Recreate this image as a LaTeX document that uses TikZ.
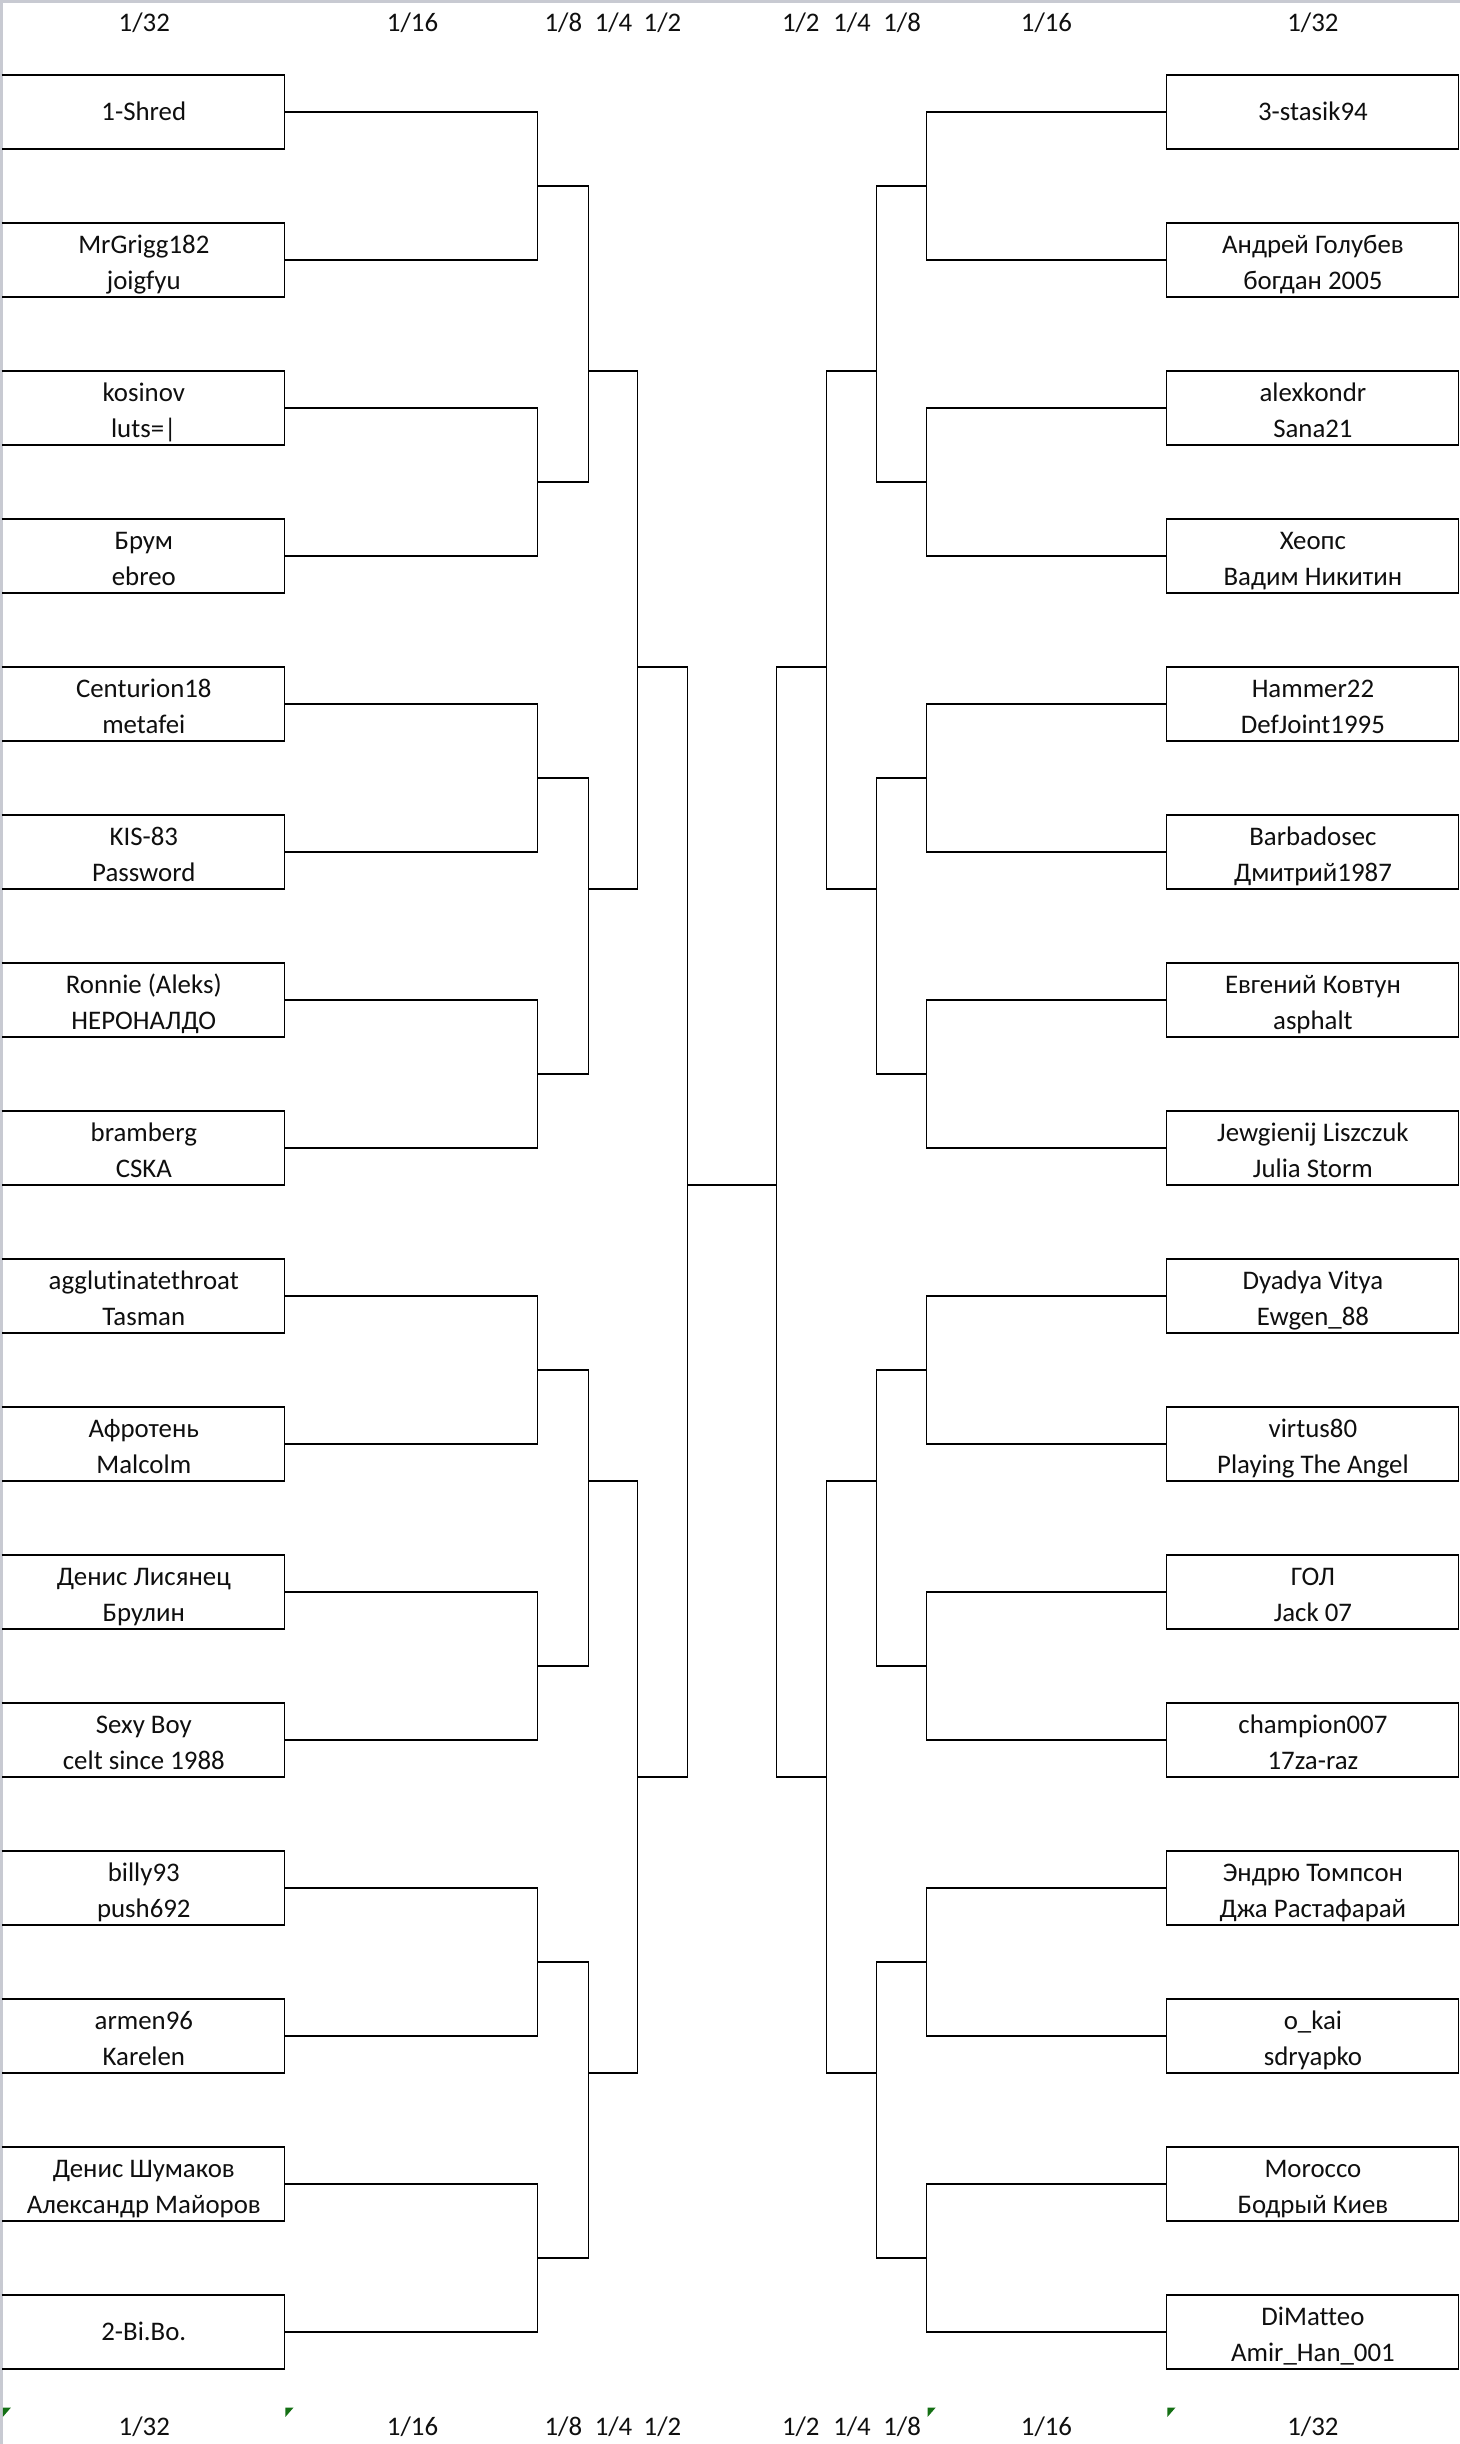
\documentclass[tikz,border=0pt]{standalone}
\usepackage{fontspec}
\setmainfont{Carlito}[Ligatures=NoCommon]
\definecolor{gridgray}{RGB}{200,202,210}
\definecolor{txtc}{RGB}{15,15,15}
\definecolor{errgreen}{RGB}{20,112,20}
\tikzset{
  ln/.style={line width=1.4pt, black, line join=miter},
  lbx/.style={rectangle, draw=none, inner sep=0pt, outer sep=0pt, minimum width=90.8mm, minimum height=23.75mm},
  rbx/.style={rectangle, draw=black, line width=1.4pt, inner sep=0pt, outer sep=0pt, minimum width=93.7mm, minimum height=23.75mm},
  txt/.style={inner sep=0pt, outer sep=0pt, text=txtc, font=\fontsize{24.5}{30}\selectfont, anchor=base},
  hdr/.style={inner sep=0pt, outer sep=0pt, text=txtc, font=\fontsize{24.5}{30}\selectfont, anchor=base}
}
\newcommand{\BoxLtwo}[4]{%
  \node[lbx] (#1) at (91.8,{71.75+95*#2}) {};
  \draw[ln] (#1.north west) -- (#1.north east) -- (#1.south east) -- (#1.south west);
  \node[txt] (#1a) at (92.3,{71.75+95*#2-4.25}) {#3};
  \node[txt] (#1b) at (92.3,{71.75+95*#2+19.05}) {#4};
}
\newcommand{\BoxLone}[3]{%
  \node[lbx] (#1) at (91.8,{71.75+95*#2}) {};
  \draw[ln] (#1.north west) -- (#1.north east) -- (#1.south east) -- (#1.south west);
  \node[txt] (#1a) at (92.3,{71.75+95*#2+5.55}) {#3};
}
\newcommand{\BoxRtwo}[4]{%
  \node[rbx] (#1) at (842.5,{71.75+95*#2}) {};
  \node[txt] (#1a) at (842.7,{71.75+95*#2-4.25}) {#3};
  \node[txt] (#1b) at (842.7,{71.75+95*#2+19.05}) {#4};
}
\newcommand{\BoxRone}[3]{%
  \node[rbx] (#1) at (842.5,{71.75+95*#2}) {};
  \node[txt] (#1a) at (842.7,{71.75+95*#2+5.55}) {#3};
}
\begin{document}
\begin{tikzpicture}[x=0.5mm,y=-0.5mm]
\useasboundingbox (0,0) rectangle (937.1,1568.7);
\fill[white] (0,0) rectangle (937.1,1568.7);
% sheet grid edges
\draw[gridgray, line width=2.4pt] (0,0.85) -- (937.1,0.85);
\draw[gridgray, line width=2.4pt] (0.85,0) -- (0.85,1568.7);

% headers top and bottom
\foreach \hx/\hlab [count=\n] in {92.6/32, 264.8/16, 361.6/8, 393.8/4, 425.2/2, 514/2, 546.9/4, 579/8, 671.7/16, 842.7/32}{
  \node[hdr] (ht\n) at (\hx,20.3) {1/\hlab};
  \node[hdr] (hb\n) at (\hx,1563.4) {1/\hlab};
}

% green error marks
\foreach \gx in {1.8,183.2,595.4,749.3}{
  \fill[errgreen] (\gx,1545.3) -- ++(5.2,0) -- ++(-5.2,6) -- cycle;
}

% left boxes
\BoxLone{L0}{0}{1-Shred}
\BoxLtwo{L1}{1}{MrGrigg182}{joigfyu}
\BoxLtwo{L2}{2}{kosinov}{luts=|}
\BoxLtwo{L3}{3}{Брум}{ebreo}
\BoxLtwo{L4}{4}{Centurion18}{metafei}
\BoxLtwo{L5}{5}{KIS-83}{Password}
\BoxLtwo{L6}{6}{Ronnie (Aleks)}{НЕРОНАЛДО}
\BoxLtwo{L7}{7}{bramberg}{CSKA}
\BoxLtwo{L8}{8}{agglutinatethroat}{Tasman}
\BoxLtwo{L9}{9}{Афротень}{Malcolm}
\BoxLtwo{L10}{10}{Денис Лисянец}{Брулин}
\BoxLtwo{L11}{11}{Sexy Boy}{celt since 1988}
\BoxLtwo{L12}{12}{billy93}{push692}
\BoxLtwo{L13}{13}{armen96}{Karelen}
\BoxLtwo{L14}{14}{Денис Шумаков}{Александр Майоров}
\BoxLone{L15}{15}{2-Bi.Bo.}

% right boxes
\BoxRone{R0}{0}{3-stasik94}
\BoxRtwo{R1}{1}{Андрей Голубев}{богдан 2005}
\BoxRtwo{R2}{2}{alexkondr}{Sana21}
\BoxRtwo{R3}{3}{Хеопс}{Вадим Никитин}
\BoxRtwo{R4}{4}{Hammer22}{DefJoint1995}
\BoxRtwo{R5}{5}{Barbadosec}{Дмитрий1987}
\BoxRtwo{R6}{6}{Евгений Ковтун}{asphalt}
\BoxRtwo{R7}{7}{Jewgienij Liszczuk}{Julia Storm}
\BoxRtwo{R8}{8}{Dyadya Vitya}{Ewgen\_88}
\BoxRtwo{R9}{9}{virtus80}{Playing The Angel}
\BoxRtwo{R10}{10}{ГОЛ}{Jack 07}
\BoxRtwo{R11}{11}{champion007}{17za-raz}
\BoxRtwo{R12}{12}{Эндрю Томпсон}{Джа Растафарай}
\BoxRtwo{R13}{13}{o\_kai}{sdryapko}
\BoxRtwo{R14}{14}{Morocco}{Бодрый Киев}
\BoxRtwo{R15}{15}{DiMatteo}{Amir\_Han\_001}

% junction coordinates
\foreach \k in {0,...,7}{
  \coordinate (LA\k) at (345.1,{119.25+190*\k});
  \coordinate (RA\k) at (594.8,{119.25+190*\k});
}
\coordinate (LB1) at (377.6,238);
\coordinate (LB2) at (377.6,570.5);
\coordinate (LB3) at (377.6,950.5);
\coordinate (LB4) at (377.6,1330.5);
\coordinate (LC1) at (409.3,428);
\coordinate (LC2) at (409.3,1140.5);
\coordinate (LD) at (441.4,760.5);
\coordinate (RB1) at (562.7,238);
\coordinate (RB2) at (562.7,570.5);
\coordinate (RB3) at (562.7,950.5);
\coordinate (RB4) at (562.7,1330.5);
\coordinate (RC1) at (530.6,428);
\coordinate (RC2) at (530.6,1140.5);
\coordinate (RD) at (498.5,760.5);

% first-round connectors
\foreach \k [evaluate=\k as \i using int(2*\k), evaluate=\k as \j using int(2*\k+1)] in {0,...,7}{
  \draw[ln] (L\i.east) -| (LA\k) |- (L\j.east);
  \draw[ln] (R\i.west) -| (RA\k) |- (R\j.west);
}
% later rounds, left
\draw[ln] (LA0) -| (LB1) |- (LA1);
\draw[ln] (LA2) -| (LB2) |- (LA3);
\draw[ln] (LA4) -| (LB3) |- (LA5);
\draw[ln] (LA6) -| (LB4) |- (LA7);
\draw[ln] (LB1) -| (LC1) |- (LB2);
\draw[ln] (LB3) -| (LC2) |- (LB4);
\draw[ln] (LC1) -| (LD) |- (LC2);
% later rounds, right
\draw[ln] (RA0) -| (RB1) |- (RA1);
\draw[ln] (RA2) -| (RB2) |- (RA3);
\draw[ln] (RA4) -| (RB3) |- (RA5);
\draw[ln] (RA6) -| (RB4) |- (RA7);
\draw[ln] (RB1) -| (RC1) |- (RB2);
\draw[ln] (RB3) -| (RC2) |- (RB4);
\draw[ln] (RC1) -| (RD) |- (RC2);
% final
\draw[ln] (LD) -- (RD);
\end{tikzpicture}
\end{document}
